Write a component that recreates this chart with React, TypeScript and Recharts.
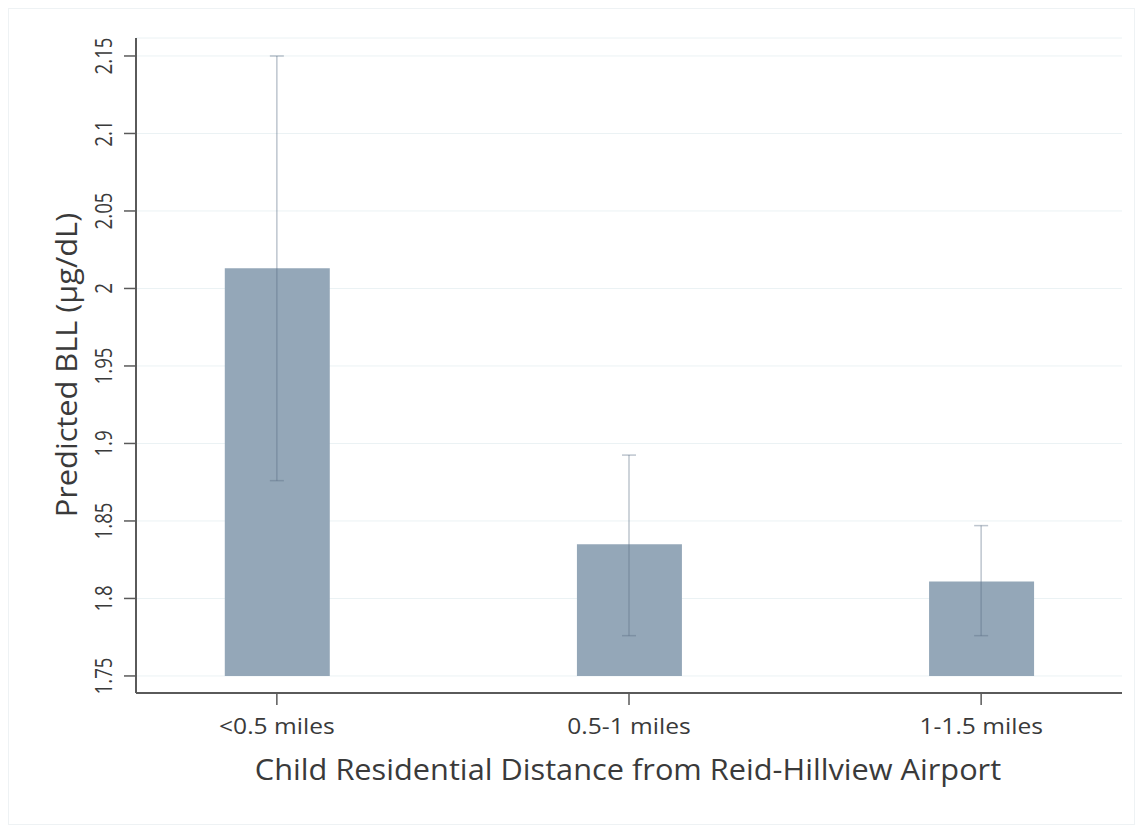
import {
  ComposedChart,
  Bar,
  Scatter,
  ErrorBar,
  XAxis,
  YAxis,
  CartesianGrid,
  Label,
} from "recharts";

const categories = ["<0.5 miles", "0.5-1 miles", "1-1.5 miles"];
const positions = [1, 2, 3];
const predictedBll = [2.013, 1.835, 1.811];
const ciLow = [1.876, 1.776, 1.776];
const ciHigh = [2.15, 1.8925, 1.847];
const barBase = 1.75;
const yTicks = [1.75, 1.8, 1.85, 1.9, 1.95, 2, 2.05, 2.1, 2.15];

const rows = categories.map((name, i) => ({
  name,
  pos: positions[i],
  range: [barBase, predictedBll[i]],
  value: predictedBll[i],
  err: [predictedBll[i] - ciLow[i], ciHigh[i] - predictedBll[i]],
}));

const FONT = "'Open Sans', sans-serif";
const TEXT = "#3a3a3a";
const AXIS = "#5a5a5a";

// text that can be rotated and stretched along its own baseline
function Txt({
  x,
  y,
  size,
  rotate = 0,
  stretch = 1,
  children,
}: {
  x: number;
  y: number;
  size: number;
  rotate?: number;
  stretch?: number;
  children: any;
}) {
  return (
    <g transform={`translate(${x} ${y}) rotate(${rotate}) scale(${stretch} 1)`}>
      <text
        x={0}
        y={0}
        textAnchor="middle"
        dominantBaseline="central"
        fontSize={size}
        fill={TEXT}
        fontFamily={FONT}
      >
        {children}
      </text>
    </g>
  );
}

function YTick(props: any) {
  const { y, payload } = props;
  const label = Number(Number(payload.value).toFixed(2)).toString();
  return (
    <Txt x={94} y={y} size={24} rotate={-90} stretch={0.78}>
      {label}
    </Txt>
  );
}

function XTick(props: any) {
  const { x, payload } = props;
  const label = categories[positions.indexOf(payload.value)] ?? "";
  return (
    <Txt x={x} y={717} size={21} stretch={1.17}>
      {label}
    </Txt>
  );
}

export default function App() {
  return (
    <div
      style={{
        width: 1125,
        height: 815,
        border: "1px solid #eef2f4",
        background: "#fff",
      }}
    >
      <ComposedChart
        width={1125}
        height={815}
        data={rows}
        margin={{ top: 29, right: 12, bottom: 31, left: 0 }}
      >
        <CartesianGrid horizontal vertical={false} stroke="#ebf2f4" />
        <XAxis
          type="number"
          dataKey="pos"
          domain={[0.6, 3.4]}
          ticks={positions}
          height={100}
          tick={<XTick />}
          tickSize={12}
          axisLine={{ stroke: AXIS, strokeWidth: 2 }}
          tickLine={{ stroke: AXIS, strokeWidth: 1.5 }}
        >
          <Label
            content={() => (
              <Txt x={619} y={760} size={29} stretch={1.06}>
                Child Residential Distance from Reid-Hillview Airport
              </Txt>
            )}
          />
        </XAxis>
        <YAxis
          type="number"
          domain={[1.739, 2.1616]}
          ticks={yTicks}
          allowDataOverflow
          width={127}
          tick={<YTick />}
          tickSize={12}
          axisLine={{ stroke: AXIS, strokeWidth: 2 }}
          tickLine={{ stroke: AXIS, strokeWidth: 1.5 }}
        >
          <Label
            content={() => (
              <Txt x={57} y={356} size={29} rotate={-90} stretch={1.06}>
                Predicted BLL (µg/dL)
              </Txt>
            )}
          />
        </YAxis>
        <Bar
          dataKey="range"
          fill="#94a7b8"
          barSize={105}
          isAnimationActive={false}
        />
        <Scatter
          dataKey="value"
          shape={() => <g />}
          isAnimationActive={false}
        >
          <ErrorBar
            dataKey="err"
            direction="y"
            width={7}
            stroke="#5b6f85"
            strokeOpacity={0.4}
            strokeWidth={1.5}
            isAnimationActive={false}
          />
        </Scatter>
      </ComposedChart>
    </div>
  );
}
